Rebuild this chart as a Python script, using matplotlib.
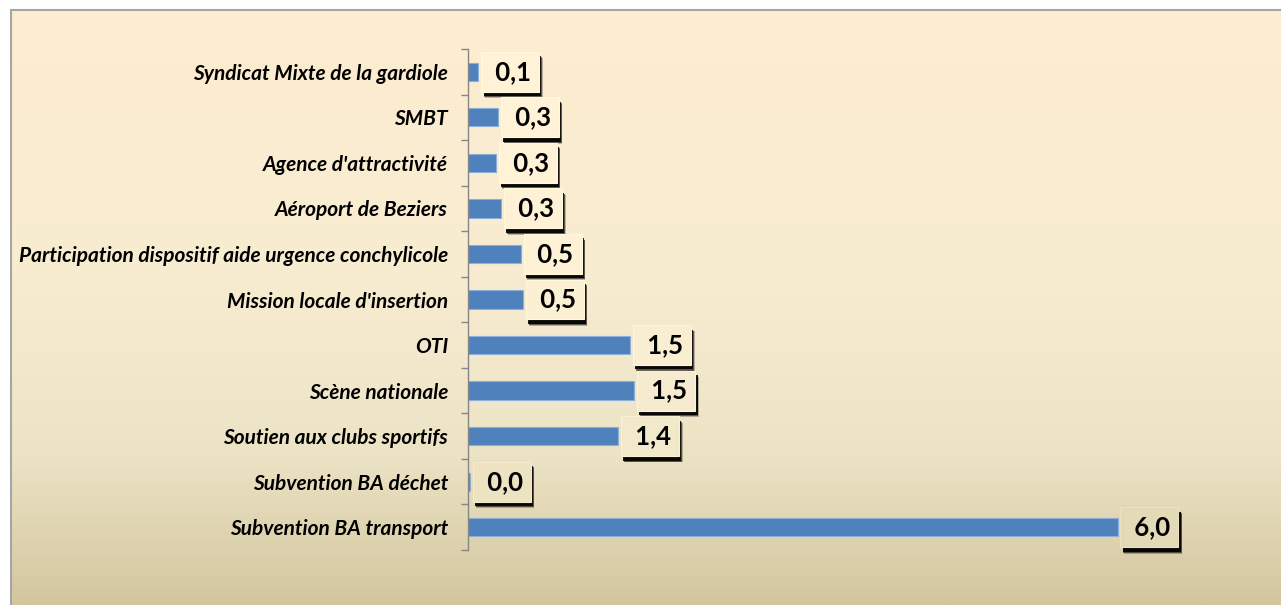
import numpy as np
import matplotlib
matplotlib.use("Agg")
import matplotlib.pyplot as plt
import matplotlib.patheffects as pe
from matplotlib.patches import Rectangle
from matplotlib.ticker import FixedLocator, NullLocator

# ------------------------------------------------------------
# data (top to bottom, as in the chart)
# ------------------------------------------------------------
categories = [
    "Syndicat Mixte de la gardiole",
    "SMBT",
    "Agence d'attractivité",
    "Aéroport de Beziers",
    "Participation dispositif aide urgence conchylicole",
    "Mission locale d'insertion",
    "OTI",
    "Scène nationale",
    "Soutien aux clubs sportifs",
    "Subvention BA déchet",
    "Subvention BA transport",
]
values = [0.10, 0.28, 0.26, 0.31, 0.49, 0.51, 1.50, 1.54, 1.39, 0.02, 6.00]

BAR_COLOR = "#4F81BD"
FONT = "Lato"

# background gradient stops (fraction from top, rgb)
grad_stops = [0.0, 0.45, 0.75, 1.0]
grad_cols = np.array([
    [253, 237, 209],
    [248, 236, 208],
    [236, 227, 197],
    [211, 198, 158],
]) / 255.0


def grad_color(frac_from_top):
    return np.array([np.interp(frac_from_top, grad_stops, grad_cols[:, k]) for k in range(3)])


W, H = 1281, 605
fig = plt.figure(figsize=(W / 100, H / 100), dpi=100)
fig.patch.set_facecolor("white")

# chart area background (starts 10px from left/top)
bg = fig.add_axes([10 / W, 0, 1 - 10 / W, (H - 10) / H])
yy = np.linspace(0, 1, 300)
img = np.array([grad_color(f) for f in yy])[:, None, :]
bg.imshow(img, aspect="auto", extent=[0, 1, 0, 1], origin="upper")
bg.set_xlim(0, 1)
bg.set_ylim(0, 1)
bg.axis("off")
fig.add_artist(Rectangle((10.5 / W, -0.01), 1.0, (H - 10) / H + 0.01 - 0.5 / H,
                         transform=fig.transFigure, fill=False,
                         edgecolor="#A6A6A6", linewidth=1.5))

# main axes
ax_left, ax_right = 467.5 / W, 1250 / W
ax_bottom, ax_top = (H - 550) / H, (H - 49) / H
ax = fig.add_axes([ax_left, ax_bottom, ax_right - ax_left, ax_top - ax_bottom])
ax.patch.set_alpha(0)

n = len(categories)
ypos = np.arange(n)
ax.barh(ypos, values, height=0.4, color=BAR_COLOR, edgecolor="#8DB0DA", linewidth=0.8)

px_per_unit = (1118 - 468) / 6.0
ax.set_xlim(0, (1250 - 467.5) / px_per_unit)
ax.set_ylim(n - 0.5, -0.5)

for s in ["top", "right", "bottom"]:
    ax.spines[s].set_visible(False)
ax.spines["left"].set_color("#868686")
ax.spines["left"].set_linewidth(1.0)

ax.xaxis.set_major_locator(NullLocator())
ax.set_yticks(ypos)
ax.set_yticklabels(categories, fontfamily=FONT, fontweight="bold",
                   fontstyle="italic", fontsize=15)
ax.tick_params(axis="y", which="major", length=0, pad=14)
ax.yaxis.set_minor_locator(FixedLocator(np.arange(-0.5, n, 1.0)))
ax.tick_params(axis="y", which="minor", length=5, width=1.0, color="#868686")

# value labels in boxes with a soft drop shadow
shadow = [
    pe.SimplePatchShadow(offset=(2.6, -4.6), shadow_rgbFace="black", alpha=0.25),
    pe.SimplePatchShadow(offset=(2.2, -4.0), shadow_rgbFace="black", alpha=0.5),
    pe.SimplePatchShadow(offset=(1.6, -3.2), shadow_rgbFace="black", alpha=0.9),
    pe.Normal(),
]
for i, v in enumerate(values):
    frac = 1 - (ax_bottom + (ax_top - ax_bottom) * (n - 0.5 - i) / n) * H / (H - 10)
    face = np.clip(grad_color(frac) + 0.02, 0, 1)
    lbl = f"{v:.1f}".replace(".", ",")
    t = ax.annotate(f" {lbl}", xy=(v, i), xytext=(23, 0), textcoords="offset points",
                    ha="center", va="center", fontfamily=FONT, fontweight="bold",
                    fontsize=18.5, color="black",
                    bbox=dict(boxstyle="square,pad=0.31", facecolor=face,
                              edgecolor=np.clip(face + 0.03, 0, 1), linewidth=0.8))
    t.get_bbox_patch().set_path_effects(shadow)

fig.savefig("out.png", dpi=100)
